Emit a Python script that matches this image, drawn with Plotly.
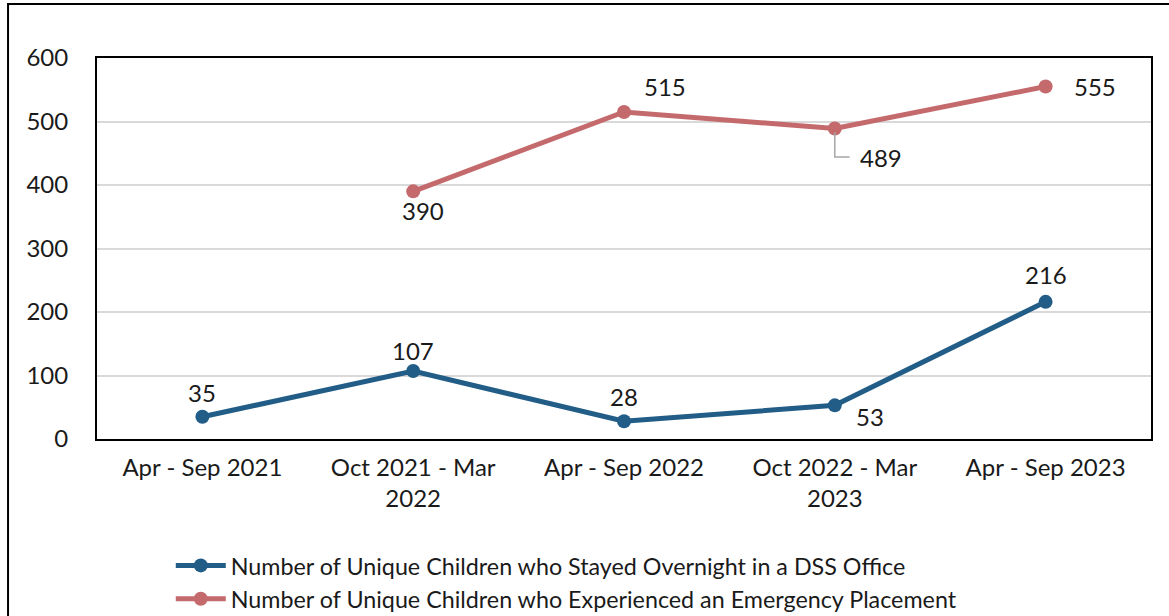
import plotly.graph_objects as go

categories = ["Apr - Sep 2021", "Oct 2021 - Mar<br>2022", "Apr - Sep 2022",
              "Oct 2022 - Mar<br>2023", "Apr - Sep 2023"]
overnight = [35, 107, 28, 53, 216]
emergency = [None, 390, 515, 489, 555]
name_overnight = "Number of Unique Children who Stayed Overnight in a DSS Office"
name_emergency = "Number of Unique Children who Experienced an Emergency Placement"

BLUE = "#225D87"
RED = "#C46A6C"
FONT = "Lato, 'Open Sans', sans-serif"
FS = 24

xs = list(range(len(categories)))

fig = go.Figure()
fig.add_trace(go.Scatter(x=xs, y=overnight, mode="lines+markers", name=name_overnight,
                         line=dict(color=BLUE, width=5), marker=dict(size=14, color=BLUE)))
fig.add_trace(go.Scatter(x=xs, y=emergency, mode="lines+markers", name=name_emergency,
                         line=dict(color=RED, width=5), marker=dict(size=14, color=RED)))

# data labels: (xshift, yshift) offsets in px
blue_off = [(0, 24), (0, 21), (0, 25), (35, -11), (0, 27)]
red_off = [None, (10, -19), (41, 25), (46, -29), (49, 0)]
for i, v in enumerate(overnight):
    dx, dy = blue_off[i]
    fig.add_annotation(x=xs[i], y=v, text=str(v), showarrow=False, xshift=dx, yshift=dy,
                       font=dict(size=FS, color="#1a1a1a", family=FONT))
for i, v in enumerate(emergency):
    if v is None:
        continue
    dx, dy = red_off[i]
    fig.add_annotation(x=xs[i], y=v, text=str(v), showarrow=False, xshift=dx, yshift=dy,
                       font=dict(size=FS, color="#1a1a1a", family=FONT))

# leader line for 489
fig.add_shape(type="path", xref="x", yref="y",
              path=f"M {xs[3]} {emergency[3]-6} L {xs[3]} 444 L {xs[3]+0.07} 444",
              line=dict(color="#A6A6A6", width=1.5))

# outer frame
fig.add_shape(type="rect", xref="paper", yref="paper", x0=-0.0844, x1=1.1, y0=-0.7, y1=1.1417,
              line=dict(color="black", width=2), layer="below")

fig.update_layout(
    width=1169, height=616,
    margin=dict(l=97, r=18, t=58, b=177, autoexpand=False),
    paper_bgcolor="white", plot_bgcolor="white",
    font=dict(family=FONT, size=FS, color="#1a1a1a"),
    showlegend=True,
    legend=dict(orientation="v", x=0.07, y=-0.275, xanchor="left", yanchor="top",
                font=dict(size=23.3, family=FONT, color="#1a1a1a"),
                itemwidth=50, tracegroupgap=0, bgcolor="rgba(0,0,0,0)"),
    xaxis=dict(tickmode="array", tickvals=xs, ticktext=categories, range=[-0.5, 4.5],
               showgrid=False, zeroline=False, showline=True, linecolor="black", linewidth=2,
               mirror=True, ticks="", ticklabelstandoff=6, automargin=False,
               tickfont=dict(size=FS, family=FONT, color="#1a1a1a")),
    yaxis=dict(range=[0, 600], dtick=100, showgrid=True, gridcolor="#D9D9D9", gridwidth=2,
               zeroline=False, showline=True, linecolor="black", linewidth=2, mirror=True,
               ticks="", ticklabelstandoff=22, automargin=False,
               tickfont=dict(size=FS, family=FONT, color="#1a1a1a")),
)

fig.write_html("out.html", config={"displayModeBar": False},
               post_script="document.body.style.margin='0';")
